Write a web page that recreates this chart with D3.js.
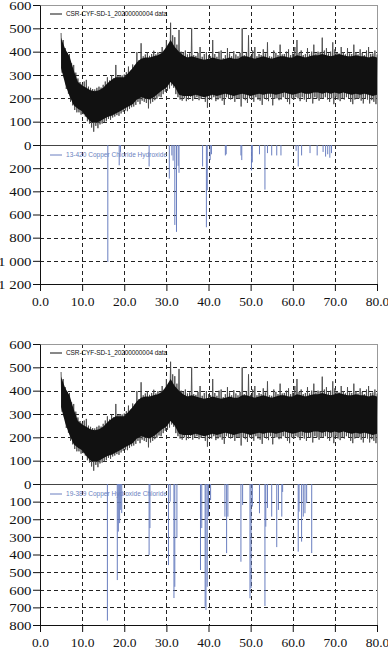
<!DOCTYPE html>
<html>
<head>
<meta charset="utf-8">
<script src="https://cdn.jsdelivr.net/npm/d3@7"></script>
<style>
  body { margin: 0; background: #fff; }
  .axis path, .axis line { stroke: #111; }
  .legend { font-family: "Liberation Sans", Arial, sans-serif; font-size: 6.5px; }
</style>
</head>
<body>
<svg id="chart" width="388" height="647"></svg>
<script>
// ---- observed pattern (same sample in both panels) ----
// core band of the noisy scan, one value per degree starting at 5
var obsStart = 5;
var coreLo = [330, 260, 210, 170, 155, 145, 120, 100, 95, 100, 110, 120, 125, 135, 145, 155,
  165, 175, 195, 205, 200, 195, 205, 220, 235, 245, 270, 250, 215, 210, 210, 210,
  215, 210, 205, 210, 215, 210, 215, 220, 215, 210, 215, 220, 215, 210, 215, 220,
  215, 220, 220, 215, 220, 225, 220, 215, 220, 225, 220, 220, 225, 225, 220, 225,
  220, 225, 220, 225, 220, 215, 220, 215, 220, 215, 210, 215];
var coreHi = [460, 410, 380, 320, 270, 255, 245, 235, 230, 235, 245, 265, 280, 290, 290, 290,
  310, 330, 355, 370, 375, 375, 380, 385, 395, 420, 450, 420, 400, 385, 375, 380,
  375, 370, 365, 370, 375, 370, 365, 370, 375, 370, 370, 380, 380, 375, 370, 375,
  380, 375, 370, 375, 380, 380, 375, 375, 385, 380, 375, 380, 385, 385, 390, 385,
  380, 385, 390, 385, 380, 380, 385, 380, 380, 375, 380, 375];
// spike tips: highs every 0.5 deg from 5, lows every 0.5 deg from 5.25
var spikeHi = [480, 450, 415, 395, 390, 350, 343, 310, 285, 270, 262, 272, 279, 250, 245, 240,
  238, 245, 250, 246, 258, 272, 290, 276, 298, 286, 343, 296, 300, 298, 302, 312,
  336, 318, 345, 340, 398, 364, 436, 380, 388, 398, 382, 390, 404, 388, 398, 392,
  420, 405, 450, 432, 524, 470, 462, 430, 493, 400, 395, 405, 388, 392, 500, 385,
  382, 395, 420, 378, 390, 398, 385, 380, 450, 390, 378, 400, 405, 372, 385, 415,
  392, 380, 402, 388, 380, 395, 500, 385, 395, 470, 382, 405, 420, 380, 390, 385,
  410, 392, 440, 380, 378, 405, 395, 385, 430, 388, 390, 400, 410, 385, 392, 420,
  450, 395, 405, 385, 390, 415, 388, 400, 430, 392, 400, 398, 460, 405, 415, 392,
  400, 440, 410, 395, 392, 420, 398, 388, 415, 392, 390, 430, 398, 388, 410, 395,
  385, 405, 420, 390, 392, 405, 388];
var spikeLo = [310, 290, 240, 220, 185, 170, 150, 140, 140, 130, 132, 122, 102, 92, 75, 57,
  82, 72, 88, 92, 98, 102, 112, 108, 118, 122, 128, 125, 135, 142, 148, 145,
  155, 162, 165, 172, 185, 175, 190, 185, 180, 157, 178, 185, 192, 198, 208, 205,
  218, 228, 232, 242, 255, 245, 218, 205, 195, 190, 200, 188, 195, 205, 190, 200,
  205, 192, 198, 205, 185, 160, 200, 195, 205, 188, 195, 200, 190, 172, 205, 198,
  195, 200, 185, 200, 198, 165, 200, 192, 180, 200, 195, 185, 205, 195, 190, 172,
  200, 195, 188, 205, 170, 198, 200, 192, 195, 205, 200, 185, 175, 200, 195, 205,
  200, 188, 205, 195, 185, 200, 198, 178, 205, 200, 190, 198, 200, 205, 195, 185,
  200, 175, 205, 195, 188, 200, 195, 205, 200, 185, 175, 195, 198, 200, 190, 178,
  200, 195, 178, 192, 185, 175];

// ---- reference stick patterns ----
var ref1Name = "13-420 Copper Chloride Hydroxide";
var ref1Pos = [16.1, 18.8, 19.1, 25.9, 30.7, 31.3, 31.6, 32.0, 32.4, 32.8, 33.0, 38.6, 39.5, 39.7,
  40.4, 40.7, 44.0, 44.2, 47.7, 47.9, 50.2, 50.4, 52.1, 53.4, 54.0, 55.0, 56.2, 57.2, 60.8,
  61.3, 62.1, 64.1, 65.8, 67.2, 67.8, 68.3, 68.8, 69.2];
var ref1Int = [1010, 175, 60, 185, 290, 90, 135, 690, 750, 180, 240, 185, 710, 390,
  130, 80, 90, 80, 90, 130, 220, 150, 80, 385, 70, 90, 90, 90, 50,
  185, 90, 70, 90, 60, 100, 80, 110, 70];

var ref2Name = "19-389 Copper Hydroxide Chloride";
var ref2Pos = [16.0, 18.35, 18.6, 18.9, 19.15, 19.4, 25.9, 26.1, 30.5, 30.9, 31.8, 32.0, 32.5,
  38.1, 38.4, 39.2, 39.4, 39.7, 40.0, 40.5, 43.9, 44.3, 44.6, 47.7, 48.1, 49.85, 50.1, 50.4,
  52.1, 53.4, 53.6, 54.0, 55.0, 56.2, 56.6, 57.4, 57.6, 61.3, 61.5, 62.1, 62.5, 62.9, 63.3, 64.5];
var ref2Int = [775, 545, 270, 222, 147, 165, 403, 250, 460, 100, 647, 583, 306,
  488, 250, 696, 715, 583, 185, 91, 185, 392, 185, 441, 119, 648, 590, 128,
  166, 692, 242, 136, 185, 358, 147, 185, 45, 384, 157, 327, 185, 166, 108, 392];

var sampleName = "CSR-CYF-SD-1_20200000004 data";
var xTicks = [0, 10, 20, 30, 40, 50, 60, 70, 80];
var obsTicks = [0, 100, 200, 300, 400, 500, 600];

var stickColor = "#6a7fc0";
var serif = "Liberation Serif, Times New Roman, serif";
var svg = d3.select("#chart");
var locale = d3.formatLocale({ decimal: ".", thousands: " ", grouping: [3] });
var fmtInt = locale.format(",d");

// build the zig-zag through the spike tips
var zig = [];
spikeHi.forEach(function(v, i) {
  zig.push([obsStart + i * 0.5, v]);
  if (i < spikeLo.length) zig.push([obsStart + 0.25 + i * 0.5, spikeLo[i]]);
});

function styleAxis(sel, size) {
  sel.attr("font-family", null).attr("font-size", null);
  sel.selectAll("text").attr("fill", "#111")
    .style("font-family", serif).style("font-size", size + "px");
}

// y labels in the original are drawn a bit wide, so stretch them
function widenLabels(sel) {
  sel.selectAll("text").each(function() {
    var w = this.getComputedTextLength();
    d3.select(this).attr("textLength", w * 1.1).attr("lengthAdjust", "spacingAndGlyphs");
  });
}

function drawPanel(top, zero, bottom, stickMax, stickTicks, pos, ints, refName) {
  var x = d3.scaleLinear().domain([0, 80]).range([40, 377]);
  var yObs = d3.scaleLinear().domain([0, 600]).range([zero, top]);
  var yRef = d3.scaleLinear().domain([0, stickMax]).range([zero, bottom]);
  var g = svg.append("g");

  // dashed grid
  var grid = g.append("g").attr("stroke", "#222").attr("stroke-width", 1)
    .attr("stroke-dasharray", "4,3");
  grid.selectAll(".vg").data(xTicks.slice(1, -1)).enter().append("line")
    .attr("x1", function(d) { return Math.round(x(d)) + 0.5; })
    .attr("x2", function(d) { return Math.round(x(d)) + 0.5; })
    .attr("y1", top).attr("y2", bottom);
  grid.selectAll(".hg").data(obsTicks.slice(1, -1)).enter().append("line")
    .attr("x1", x(0)).attr("x2", x(80))
    .attr("y1", function(d) { return Math.round(yObs(d)) + 0.5; })
    .attr("y2", function(d) { return Math.round(yObs(d)) + 0.5; });
  grid.selectAll(".rg").data(stickTicks.slice(1, -1)).enter().append("line")
    .attr("x1", x(0)).attr("x2", x(80))
    .attr("y1", function(d) { return Math.round(yRef(d)) + 0.5; })
    .attr("y2", function(d) { return Math.round(yRef(d)) + 0.5; });

  // frame (top and right in gray)
  g.append("line").attr("x1", x(0)).attr("x2", x(80)).attr("y1", top + 0.5).attr("y2", top + 0.5)
    .attr("stroke", "#999");
  g.append("line").attr("x1", x(80) + 0.5).attr("x2", x(80) + 0.5).attr("y1", top).attr("y2", bottom)
    .attr("stroke", "#999");

  // observed scan: spikes first, solid core over them
  var line = d3.line().x(function(d) { return x(d[0]); }).y(function(d) { return yObs(d[1]); });
  g.append("path").datum(zig).attr("d", line).attr("fill", "none")
    .attr("stroke", "#4a4a4a").attr("stroke-width", 0.9);
  var area = d3.area()
    .x(function(d, i) { return x(obsStart + i); })
    .y0(function(d, i) { return yObs(coreLo[i]); })
    .y1(function(d, i) { return yObs(coreHi[i]); });
  g.append("path").datum(coreLo).attr("d", area).attr("fill", "#111");

  // zero line between the two parts
  g.append("line").attr("x1", x(0)).attr("x2", x(80)).attr("y1", zero + 0.5).attr("y2", zero + 0.5)
    .attr("stroke", "#444");

  // reference sticks hanging down
  g.selectAll(".stick").data(pos).enter().append("line")
    .attr("x1", function(d) { return x(d); }).attr("x2", function(d) { return x(d); })
    .attr("y1", yRef(0)).attr("y2", function(d, i) { return yRef(ints[i]); })
    .attr("stroke", stickColor).attr("stroke-width", 1);

  // axes
  g.append("g").attr("class", "axis").attr("transform", "translate(" + x(0) + ",0)")
    .call(d3.axisLeft(yObs).tickValues(obsTicks).tickSize(7).tickPadding(1.5).tickSizeOuter(0))
    .call(styleAxis, 13.5).call(widenLabels);
  g.append("g").attr("class", "axis").attr("transform", "translate(" + x(0) + ",0)")
    .call(d3.axisLeft(yRef).tickValues(stickTicks.slice(1)).tickFormat(fmtInt)
      .tickSize(7).tickPadding(1.5).tickSizeOuter(0))
    .call(styleAxis, 13.5).call(widenLabels);
  g.append("g").attr("class", "axis").attr("transform", "translate(0," + bottom + ")")
    .call(d3.axisBottom(x).tickValues(xTicks).tickFormat(d3.format(".1f"))
      .tickSize(7).tickPadding(5).tickSizeOuter(0))
    .call(styleAxis, 13.5);

  // legends
  g.append("line").attr("x1", 50).attr("x2", 62).attr("y1", top + 9).attr("y2", top + 9)
    .attr("stroke", "#111");
  g.append("text").attr("class", "legend").attr("x", 66).attr("y", top + 11)
    .attr("textLength", 101).attr("fill", "#111").text(sampleName);
  g.append("line").attr("x1", 50).attr("x2", 62).attr("y1", zero + 10).attr("y2", zero + 10)
    .attr("stroke", stickColor);
  g.append("text").attr("class", "legend").attr("x", 66).attr("y", zero + 12)
    .attr("textLength", 101).attr("fill", stickColor).text(refName);
}

drawPanel(5, 145, 284, 1200, [0, 200, 400, 600, 800, 1000, 1200], ref1Pos, ref1Int, ref1Name);
drawPanel(344, 484, 625, 800, [0, 100, 200, 300, 400, 500, 600, 700, 800], ref2Pos, ref2Int, ref2Name);
</script>
</body>
</html>
